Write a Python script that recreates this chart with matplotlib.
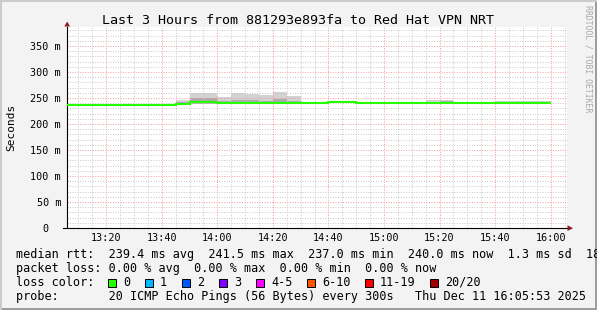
from datetime import datetime
import matplotlib
matplotlib.use("Agg")
import matplotlib.pyplot as plt
import matplotlib.dates as mdates
from matplotlib.patches import Rectangle, Polygon
from matplotlib.ticker import MultipleLocator, FuncFormatter

W, H = 597, 310
MONO = "DejaVu Sans Mono"

# colours close to the rrdtool / smokeping defaults
BACK = "#f3f3f3"
SHADEA = "#cbcbcb"
SHADEB = "#9d9d9d"
ARROW = "#8b1a1a"

# 5 minute steps (start time of each step), last step ends 16:00
step_times = [
    "13:05", "13:10", "13:15", "13:20", "13:25", "13:30", "13:35", "13:40",
    "13:45", "13:50", "13:55", "14:00", "14:05", "14:10", "14:15", "14:20",
    "14:25", "14:30", "14:35", "14:40", "14:45", "14:50", "14:55", "15:00",
    "15:05", "15:10", "15:15", "15:20", "15:25", "15:30", "15:35", "15:40",
    "15:45", "15:50", "15:55", "16:00",
]

# median rtt per step (ms)
median_ms = [
    237.0, 237.0, 237.0, 237.0, 237.0, 237.0, 237.0, 237.0,
    239.0, 241.5, 241.5, 241.0, 240.0, 240.0, 240.0, 240.0,
    240.0, 240.0, 239.5, 241.5, 241.5, 240.0, 240.0, 240.0,
    240.0, 240.0, 240.0, 240.0, 240.0, 240.0, 240.0, 240.0,
    240.0, 240.0, 240.0,
]
# smoke: fastest ping, third quartile, slowest ping (ms)
smoke_min_ms = [
    236.5, 236.5, 236.5, 236.5, 236.5, 236.5, 236.5, 236.5,
    238.0, 239.0, 239.0, 238.5, 238.5, 238.5, 238.5, 238.5,
    238.5, 239.0, 238.5, 240.0, 240.0, 239.0, 239.0, 239.0,
    239.0, 239.0, 238.5, 238.5, 239.0, 239.0, 239.0, 238.5,
    238.5, 238.5, 238.5,
]
smoke_q3_ms = [
    237.5, 237.5, 237.5, 237.5, 237.5, 237.5, 237.5, 237.5,
    242.0, 250.0, 250.0, 244.0, 247.0, 246.0, 245.0, 248.0,
    244.0, 241.0, 240.0, 242.0, 242.0, 240.5, 240.5, 240.5,
    240.5, 240.5, 242.0, 245.0, 240.5, 240.5, 240.5, 242.0,
    241.5, 241.0, 242.0,
]
smoke_max_ms = [
    238.0, 238.0, 238.0, 238.0, 238.0, 238.0, 238.0, 238.0,
    246.0, 260.0, 260.0, 252.0, 260.0, 258.0, 256.0, 262.0,
    254.0, 242.0, 241.0, 243.0, 243.0, 241.0, 241.0, 241.0,
    241.0, 241.0, 246.0, 246.0, 241.0, 241.0, 241.0, 245.0,
    245.0, 244.0, 245.0,
]

loss_labels = ["0", "1", "2", "3", "4-5", "6-10", "11-19", "20/20"]
loss_colors = ["#26ff00", "#00b8ff", "#0059ff", "#7e00ff",
               "#ff00ff", "#ff5500", "#ff0000", "#a10000"]

title = "Last 3 Hours from 881293e893fa to Red Hat VPN NRT"
legend_lines = [
    "median rtt:  239.4 ms avg  241.5 ms max  237.0 ms min  240.0 ms now  1.3 ms sd  18",
    "packet loss: 0.00 % avg  0.00 % max  0.00 % min  0.00 % now",
    "loss color:",
    "probe:       20 ICMP Echo Pings (56 Bytes) every 300s   Thu Dec 11 16:05:53 2025",
]

day = "2025-12-11 "
edges = [mdates.date2num(datetime.strptime(day + t, "%Y-%m-%d %H:%M")) for t in step_times]
t0 = mdates.date2num(datetime(2025, 12, 11, 13, 5, 53))
t1 = mdates.date2num(datetime(2025, 12, 11, 16, 5, 53))


def fx(px):
    return px / W


def fy(py):
    return 1 - py / H


fig = plt.figure(figsize=(W / 100, H / 100), dpi=100, facecolor=BACK)

# 3d-ish frame like rrdtool
fig.add_artist(Rectangle((0, 0), 1, 2 / H, transform=fig.transFigure, color=SHADEB, lw=0))
fig.add_artist(Rectangle((1 - 2 / W, 0), 2 / W, 1, transform=fig.transFigure, color=SHADEB, lw=0))
fig.add_artist(Rectangle((0, 1 - 2 / H), 1, 2 / H, transform=fig.transFigure, color=SHADEA, lw=0))
fig.add_artist(Rectangle((0, 0), 2 / W, 1, transform=fig.transFigure, color=SHADEA, lw=0))

ax = fig.add_axes([fx(67), fy(228), 500 / W, 201 / H])
ax.set_facecolor("white")

# smoke
ax.stairs(smoke_max_ms, edges, baseline=smoke_min_ms, fill=True, color="#d2d2d2", lw=0)
ax.stairs(smoke_q3_ms, edges, baseline=smoke_min_ms, fill=True, color="#ababab", lw=0)
# median, coloured by loss (0 loss everywhere)
ax.stairs(median_ms, edges, baseline=None, color=loss_colors[0], lw=1.5, zorder=3)

ax.set_xlim(t0, t1)
ax.set_ylim(0, 386.5)

ax.xaxis.set_major_locator(mdates.MinuteLocator(byminute=[0, 20, 40]))
ax.xaxis.set_minor_locator(mdates.MinuteLocator(byminute=range(0, 60, 5)))
ax.xaxis.set_major_formatter(mdates.DateFormatter("%H:%M"))
ax.yaxis.set_major_locator(MultipleLocator(50))
ax.yaxis.set_minor_locator(MultipleLocator(10))
ax.yaxis.set_major_formatter(FuncFormatter(lambda v, p: "0  " if v == 0 else f"{v:.0f} m"))

ax.set_axisbelow("line")
ax.grid(which="minor", color="#c8c8c8", lw=0.7, linestyle=(0, (1, 1.6)))
ax.grid(which="major", color="#f29a9a", lw=0.7, linestyle=(0, (1, 1.6)))

ax.tick_params(which="both", length=0)
ax.tick_params(axis="y", pad=4.3, labelsize=7.3)
ax.tick_params(axis="x", pad=3.6, labelsize=7.3)
for lab in ax.get_xticklabels() + ax.get_yticklabels():
    lab.set_fontfamily(MONO)

for s in ["top", "right", "bottom"]:
    ax.spines[s].set_visible(False)
ax.spines["left"].set_linewidth(0.8)
ax.spines["left"].set_color("black")
# x axis sticks out a little to the left, as rrdtool draws it
ax.plot([-4 / 500, 1.0], [0, 0], transform=ax.transAxes, color="black",
        lw=0.8, clip_on=False, zorder=4)

# arrow heads
fig.add_artist(Polygon([(fx(64.3), fy(26.5)), (fx(70.0), fy(26.5)), (fx(67.2), fy(21.5))],
                       closed=True, transform=fig.transFigure, color=ARROW, lw=0))
fig.add_artist(Polygon([(fx(567.5), fy(225.3)), (fx(567.5), fy(231.0)), (fx(573), fy(228.2))],
                       closed=True, transform=fig.transFigure, color=ARROW, lw=0))

fig.text(fx(297.5), fy(24), title, ha="center", va="baseline", fontsize=9.6, family=MONO)
fig.text(fx(11), fy(127), "Seconds", rotation=90, ha="center", va="center",
         fontsize=8, family=MONO)
fig.text(fx(588), fy(5), "RRDTOOL / TOBI OETIKER", rotation=270, ha="center", va="top",
         fontsize=5.9, family=MONO, color="#a8a8a8")

baselines = [258.3, 271.9, 285.8, 299.8]
for line, b in zip(legend_lines, baselines):
    fig.text(fx(16), fy(b), line, ha="left", va="baseline", fontsize=8.5, family=MONO)

# loss colour boxes
x = 108.0
for lab, col in zip(loss_labels, loss_colors):
    fig.add_artist(Rectangle((fx(x), fy(286.5)), 8 / W, 8 / H, transform=fig.transFigure,
                             facecolor=col, edgecolor="black", lw=0.7))
    fig.text(fx(x + 15), fy(baselines[2]), lab, ha="left", va="baseline",
             fontsize=8.5, family=MONO)
    x += 30 + 7.0 * len(lab)

fig.savefig("out.png", dpi=100, facecolor=BACK)
